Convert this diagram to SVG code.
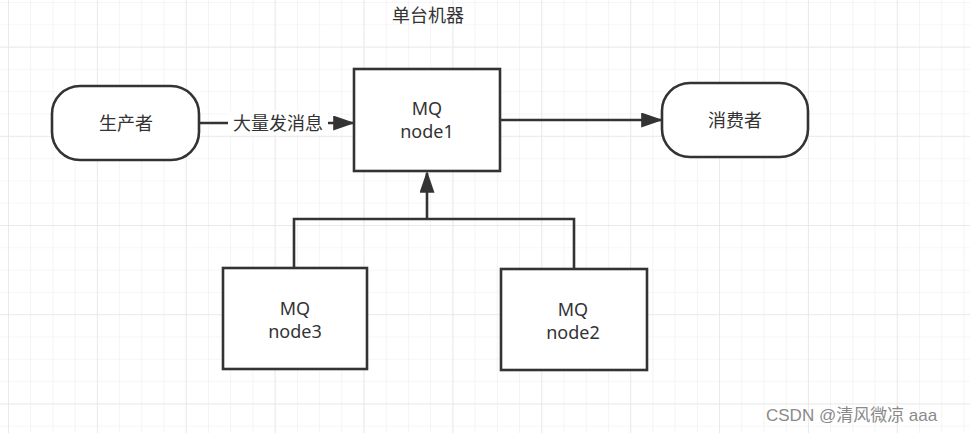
<svg xmlns="http://www.w3.org/2000/svg" width="970" height="433" viewBox="0 0 970 433">
  <style>
    .shape { fill: #ffffff; stroke: #333333; stroke-width: 2.6; }
    .edge { fill: none; stroke: #333333; stroke-width: 2.6; }
    .txt { font-family: "Noto Sans", "Noto Sans CJK SC", sans-serif; font-size: 18px; fill: #333333; text-anchor: middle; }
    .wm { font-family: "Liberation Sans", "Noto Sans CJK SC", sans-serif; font-size: 17px; fill: #8a8a8a; }
  </style>
  <defs>
    <pattern id="grid" x="8" y="2" width="22.22" height="22.3" patternUnits="userSpaceOnUse">
      <path d="M0 0 V22.3 M0 0 H22.22" stroke="#eeeeee" stroke-width="1.2" fill="none"/>
    </pattern>
    <pattern id="gridMajor" x="8" y="46.6" width="88.88" height="89.2" patternUnits="userSpaceOnUse">
      <path d="M0 0 V89.2 M0 0 H88.88" stroke="#e6e6e6" stroke-width="1.4" fill="none"/>
    </pattern>
    <marker id="arrowBig" viewBox="0 0 10 10" refX="9" refY="5" markerWidth="22" markerHeight="15" preserveAspectRatio="none" markerUnits="userSpaceOnUse" orient="auto">
      <path d="M0 0 L10 5 L0 10 Z" fill="#333333"/>
    </marker>
  </defs>
  <rect x="0" y="0" width="970" height="433" fill="#ffffff"/>
  <rect x="0" y="0" width="970" height="433" fill="url(#grid)"/>
  <rect x="0" y="0" width="970" height="433" fill="url(#gridMajor)"/>

  <text class="txt" x="428" y="22" font-size="17">单台机器</text>

  <g id="connectors">
    <path class="edge" d="M199 123 H353" marker-end="url(#arrowBig)"/>
    <path class="edge" d="M500 120 H661" marker-end="url(#arrowBig)"/>
    <path class="edge" d="M294 268 V219 H574 V268"/>
    <path class="edge" d="M427 219 V173" marker-end="url(#arrowBig)"/>
    <rect x="228" y="111" width="100" height="24" fill="#ffffff"/>
    <text class="txt" x="278" y="130" font-size="19">大量发消息</text>
  </g>

  <g id="producer">
    <rect class="shape" x="52" y="86" width="147" height="74" rx="28" ry="28"/>
    <text class="txt" x="126" y="130">生产者</text>
  </g>

  <g id="node1">
    <rect class="shape" x="354" y="69" width="146" height="102"/>
    <text class="txt" x="427" y="115">MQ</text>
    <text class="txt" x="427" y="138">node1</text>
  </g>

  <g id="consumer">
    <rect class="shape" x="662" y="83" width="146" height="74" rx="28" ry="28"/>
    <text class="txt" x="735" y="127">消费者</text>
  </g>

  <g id="node3">
    <rect class="shape" x="223" y="268" width="144" height="101"/>
    <text class="txt" x="295" y="315">MQ</text>
    <text class="txt" x="295" y="338">node3</text>
  </g>

  <g id="node2">
    <rect class="shape" x="501" y="269" width="146" height="101"/>
    <text class="txt" x="573" y="316">MQ</text>
    <text class="txt" x="573" y="339">node2</text>
  </g>

  <text class="wm" x="766" y="421">CSDN @清风微凉 aaa</text>
</svg>
